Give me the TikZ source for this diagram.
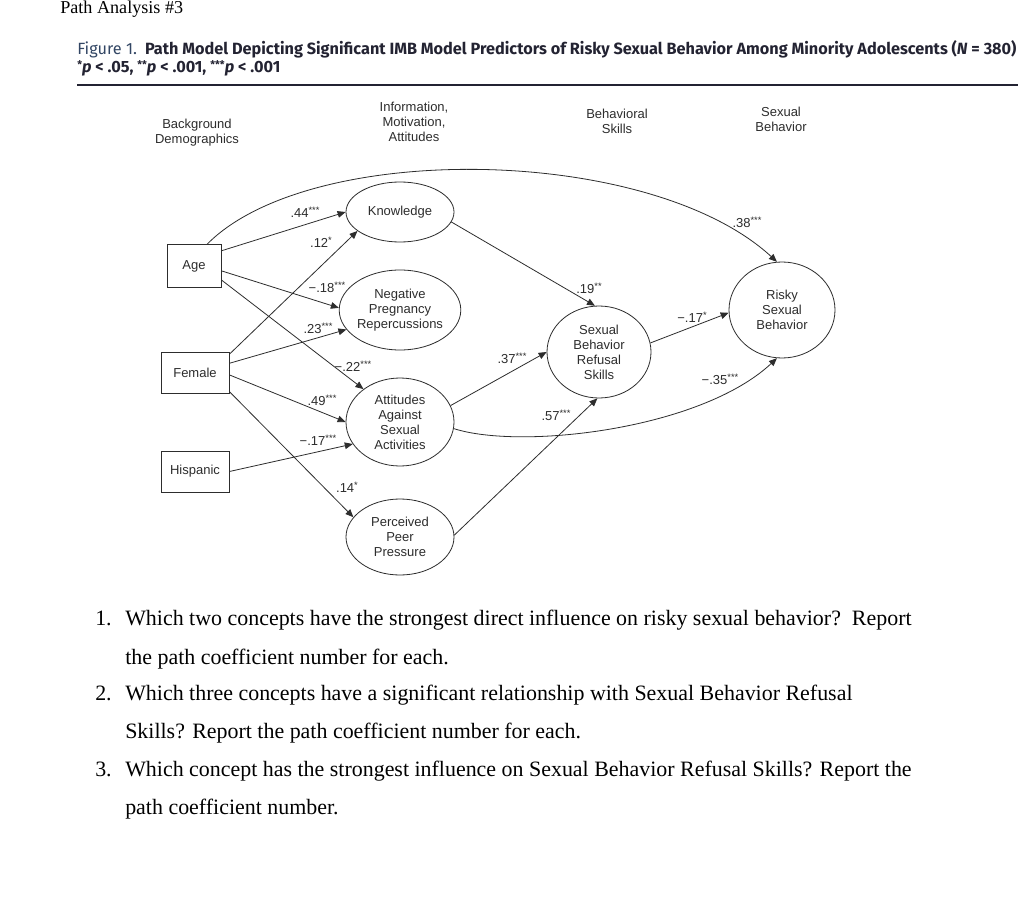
\documentclass[tikz,border=0pt]{standalone}
\usepackage{fontspec}
\setmainfont{Liberation Serif}
\newfontfamily\arialf{Liberation Sans}
\newfontfamily\capfont{Fira Sans}
\usetikzlibrary{arrows.meta,shapes.geometric}
\definecolor{ink}{RGB}{45,45,45}
\definecolor{capblue}{RGB}{50,70,100}
\definecolor{capdark}{RGB}{35,35,50}
\newcommand{\stars}[1]{\raisebox{0.55ex}{\fontsize{7}{7}\selectfont #1}}
\newcommand{\capstars}[1]{\raisebox{0.55ex}{\fontsize{8}{8}\selectfont #1}}
\begin{document}
\begin{tikzpicture}[x=0.75pt,y=-0.75pt,
  dtext/.style={font=\arialf\fontsize{9.75}{11.25}\selectfont, text=ink, align=center},
  bx/.style={dtext, draw=ink, line width=0.6pt, rectangle, inner sep=0pt, minimum width=51pt, minimum height=30.75pt},
  el/.style={dtext, draw=ink, line width=0.6pt, ellipse, inner sep=0pt},
  lbl/.style={font=\arialf\fontsize{9.75}{10}\selectfont, text=ink, inner sep=0pt},
  hdr/.style={dtext, inner sep=0pt},
  arr/.style={draw=ink, line width=0.6pt, -{Triangle[length=6pt,width=5pt]}},
  qtext/.style={font=\fontsize{16.45}{19}\selectfont, anchor=base west, inner sep=0pt},
  captxt/.style={font=\capfont\fontsize{12.2}{14}\selectfont, anchor=base west, inner sep=0pt}
]
\useasboundingbox (0,0) rectangle (1024,920);
\fill[white] (0,0) rectangle (1024,920);

% title
\node[anchor=base west, inner sep=0pt, font=\fontsize{13.6}{16}\selectfont] (title) at (60,13.5) {Path Analysis \#3};

% caption
\node[captxt] (cap1) at (77,55) {\textcolor{capblue}{Figure 1.}\hspace{0.5em}\textcolor{capdark}{\bfseries Path Model Depicting Significant IMB Model Predictors of Risky Sexual Behavior Among Minority Adolescents (\textit{N} = 380)}};
\node[captxt] (cap2) at (77,73) {\textcolor{capdark}{\bfseries \capstars{*}\textit{p} < .05, \capstars{**}\textit{p} < .001, \capstars{***}\textit{p} < .001}};
\coordinate (ruleL) at (77,85);
\coordinate (ruleR) at (1018,85);
\draw[line width=1.6pt, capdark] (ruleL) -- (ruleR);

% column headers
\node[hdr] (h1) at (197,133) {Background\\Demographics};
\node[hdr] (h2) at (414,122) {Information,\\Motivation,\\Attitudes};
\node[hdr] (h3) at (617,121) {Behavioral\\Skills};
\node[hdr] (h4) at (781,119) {Sexual\\Behavior};

% demographic boxes
\node[bx, minimum width=40.5pt, minimum height=32pt] (age) at (194,266) {Age};
\node[bx] (female) at (195,372.5) {Female};
\node[bx] (hisp) at (195,471.5) {Hispanic};

% IMB ellipses
\node[el, minimum width=81pt, minimum height=45pt] (know) at (400,212) {Knowledge};
\node[el, minimum width=84pt, minimum height=60pt] (neg) at (400,310) {Negative\\Pregnancy\\Repercussions};
\node[el, minimum width=81pt, minimum height=66pt] (att) at (400,422) {Attitudes\\Against\\Sexual\\Activities};
\node[el, minimum width=81pt, minimum height=57pt] (per) at (400,537) {Perceived\\Peer\\Pressure};
\node[el, minimum width=78pt, minimum height=69pt] (sbrs) at (599,352) {Sexual\\Behavior\\Refusal\\Skills};
\node[el, minimum width=79.5pt, minimum height=72pt] (risky) at (782,310) {Risky\\Sexual\\Behavior};

% paths
\draw[arr] (age.29) -- (know.180);
\draw[arr] (female.28) -- (know.204);
\draw[arr] (age.-10) -- (neg.178);
\draw[arr] (female.15) -- (neg.200);
\draw[arr] (age.-27) -- (att.138);
\draw[arr] (female.-4) -- (att.180);
\draw[arr] (hisp.east) -- (att.205);
\draw[arr] (female.-29) -- (per.157);
\draw[arr] (know.-11) -- (sbrs.95);
\draw[arr] (att.18) -- (sbrs.180);
\draw[arr] (per.2) -- (sbrs.268);
\draw[arr] (sbrs.10) -- (risky.183);
\draw[arr] (age.59) .. controls (310,140) and (650,145) .. (risky.96);
\draw[arr] (att.-7) .. controls (520,450) and (700,430) .. (risky.264);

% coefficients
\node[lbl] (l1) at (305,212) {.44\stars{***}};
\node[lbl] (l2) at (321,242) {.12\stars{*}};
\node[lbl] (l3) at (327,287) {−.18\stars{***}};
\node[lbl] (l4) at (318,328) {.23\stars{***}};
\node[lbl] (l5) at (353,366) {−.22\stars{***}};
\node[lbl] (l6) at (322,400) {.49\stars{***}};
\node[lbl] (l7) at (318,440) {−.17\stars{***}};
\node[lbl] (l8) at (347,487) {.14\stars{*}};
\node[lbl] (l9) at (589,288) {.19\stars{**}};
\node[lbl] (l10) at (512,358) {.37\stars{***}};
\node[lbl] (l11) at (556,415) {.57\stars{***}};
\node[lbl] (l12) at (692,317) {−.17\stars{*}};
\node[lbl] (l13) at (747,222) {.38\stars{***}};
\node[lbl] (l14) at (720,379) {−.35\stars{***}};

% questions
\node[qtext] (n1) at (95,625) {1.};
\node[qtext] (q1a) at (125,625) {Which two concepts have the strongest direct influence on risky sexual behavior?\ \ Report};
\node[qtext] (q1b) at (125,664) {the path coefficient number for each.};
\node[qtext] (n2) at (95,700) {2.};
\node[qtext] (q2a) at (125,700) {Which three concepts have a significant relationship with Sexual Behavior Refusal};
\node[qtext] (q2b) at (125,738) {Skills? Report the path coefficient number for each.};
\node[qtext] (n3) at (95,776) {3.};
\node[qtext] (q3a) at (125,776) {Which concept has the strongest influence on Sexual Behavior Refusal Skills? Report the};
\node[qtext] (q3b) at (125,814) {path coefficient number.};
\end{tikzpicture}
\end{document}
